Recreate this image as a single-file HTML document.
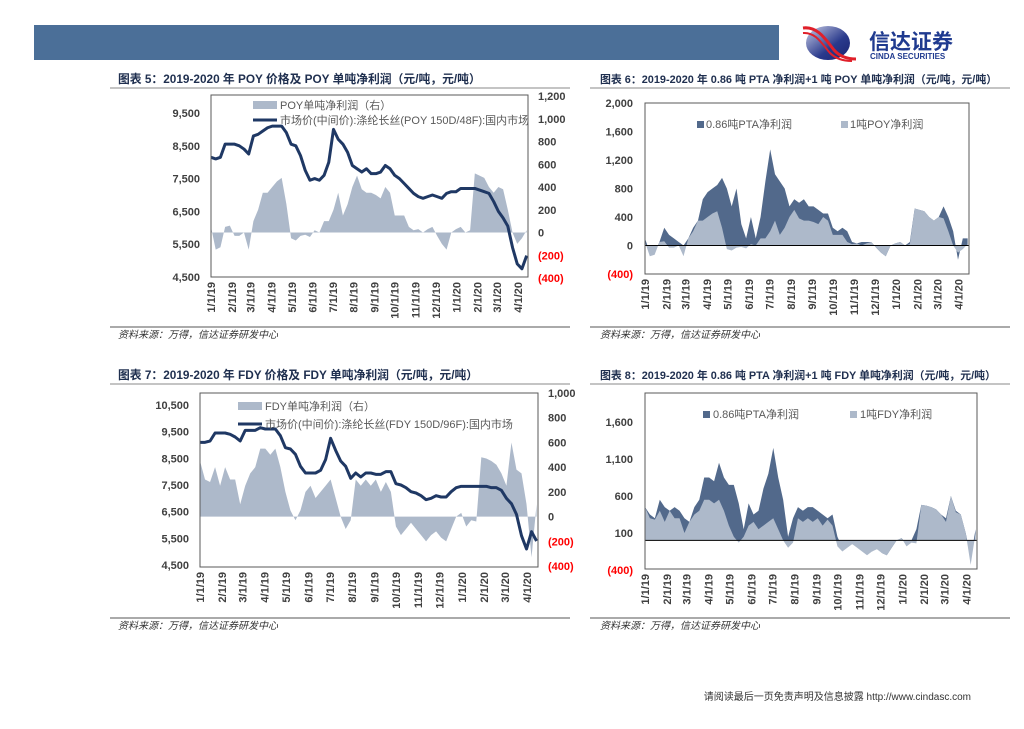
<!DOCTYPE html>
<html><head><meta charset="utf-8">
<style>
html,body{margin:0;padding:0;background:#fff;}
body{width:1024px;height:724px;position:relative;overflow:hidden;font-family:"Liberation Sans","Noto Sans CJK SC",sans-serif;}
svg text{font-family:"Liberation Sans","Noto Sans CJK SC",sans-serif;}
</style></head>
<body>
<svg id="page" width="1024" height="724" viewBox="0 0 1024 724" xmlns="http://www.w3.org/2000/svg">
  <rect x="34" y="25" width="745" height="35" fill="#4b6f98"/>
  <g>
    <defs><linearGradient id="lg" x1="0" y1="0" x2="1" y2="1"><stop offset="0" stop-color="#c9cde6"/><stop offset="0.6" stop-color="#2a3a8c"/><stop offset="1" stop-color="#1a2370"/></linearGradient></defs>
    <ellipse cx="828" cy="43" rx="22" ry="17" fill="url(#lg)"/>
    <path d="M803 28 C818 26 826 40 834 50 C840 57 848 59 856 59" stroke="#e0202a" stroke-width="3" fill="none"/>
    <path d="M803 33 C816 32 822 44 830 53 C836 59 844 61 852 61" stroke="#e0202a" stroke-width="2" fill="none"/>
    <text x="869" y="49" font-size="21" font-weight="bold" fill="#1f3a8f">信达证券</text>
    <text x="870" y="59" font-size="8" font-weight="bold" fill="#1f3a8f">CINDA SECURITIES</text>
  </g>
  <text x="971" y="700" font-size="10" fill="#333" text-anchor="end">请阅读最后一页免责声明及信息披露 http://www.cindasc.com</text>
</svg>
<script>
const monthLabels = ["1/1/19","2/1/19","3/1/19","4/1/19","5/1/19","6/1/19","7/1/19","8/1/19","9/1/19","10/1/19","11/1/19","12/1/19","1/1/20","2/1/20","3/1/20","4/1/20"];
const monthDays = [0,31,59,90,120,151,181,212,243,273,304,334,365,396,425,456];
const poyPrice = [8150,8100,8150,8550,8550,8550,8500,8400,8250,8800,8850,8950,9050,9100,9100,9100,8900,8550,8500,8200,7750,7450,7500,7450,7600,8000,9000,8700,8550,8300,7900,7800,7700,7800,7650,7650,7700,7900,7800,7600,7500,7350,7200,7050,6950,6900,6950,7000,6950,6900,7050,7100,7100,7200,7200,7200,7200,7150,7100,7050,6800,6500,6300,6050,5400,4900,4750,5150];
const poyProfit = [50,-150,-130,50,60,-30,-30,0,-150,100,200,350,350,400,450,480,250,-50,-70,-30,-20,-40,20,0,100,100,200,350,150,250,400,500,380,350,350,330,300,400,350,150,150,150,50,20,30,0,30,50,-30,-100,-150,0,30,50,0,20,520,500,480,400,350,400,380,200,0,-100,-50,20];
const fdyPrice = [9100,9100,9150,9450,9450,9450,9400,9300,9150,9550,9550,9550,9650,9600,9600,9600,9350,8900,8850,8650,8200,7950,7950,7950,8050,8450,9250,8800,8400,8200,7750,7950,7800,7950,7950,7900,7900,8000,8000,7550,7500,7400,7250,7200,7100,6950,7000,7100,7050,7050,7250,7400,7450,7450,7450,7450,7450,7450,7400,7400,7300,7000,6800,6400,5600,5100,5750,5400];
const fdyProfit = [450,300,280,400,250,400,300,300,100,250,350,400,550,550,500,550,400,200,50,-30,50,200,250,150,200,250,300,150,0,-100,-30,300,250,300,250,300,200,280,200,-80,-150,-100,-50,-100,-150,-200,-150,-120,-170,-200,-100,0,30,-80,-30,-40,480,470,450,420,350,250,600,380,350,100,-330,100];
const ptaProfitA = [50,50,30,0,190,180,130,50,150,0,50,0,300,350,350,370,700,850,620,830,320,140,380,100,300,800,1150,650,750,550,150,150,220,300,200,220,200,50,100,100,50,100,150,30,0,50,20,0,0,0,0,0,0,0,0,30,0,0,0,0,0,0,170,200,200,-100,150,80];
const ptaProfitB = [0,50,20,150,200,0,150,100,200,0,100,150,300,300,300,500,450,550,700,530,100,300,100,250,500,650,950,700,550,150,330,150,150,150,200,100,150,20,150,130,50,100,0,50,50,50,0,20,0,0,0,0,0,30,30,190,0,0,0,0,0,50,0,20,0,0,100,50];
const leftTicks5 = [9500,8500,7500,6500,5500,4500];
const rightTicks5 = [1200,1000,800,600,400,200,0,-200,-400];
const ticks6 = [2000,1600,1200,800,400,0,-400];
const leftTicks7 = [10500,9500,8500,7500,6500,5500,4500];
const rightTicks7 = [1000,800,600,400,200,0,-200,-400];
const ticks8 = [1600,1100,600,100,-400];

const NS = "http://www.w3.org/2000/svg";
const svg = document.getElementById('page');
const SPAN = 471;
function mk(tag, attrs, parent){ const e=document.createElementNS(NS,tag); for(const k in attrs) e.setAttribute(k,attrs[k]); (parent||svg).appendChild(e); return e; }
function fmt(v){ const s=Math.abs(v).toLocaleString('en-US'); return v<0?'('+s+')':s; }
function linY(v1,p1,v2,p2){ return v=>p1+(v-v1)*(p2-p1)/(v2-v1); }

function frame(g, box, title, tx, lineL, lineR, ty, fs){
  const t=mk('text',{x:tx,y:ty,'font-size':fs,'font-weight':'bold',fill:'#1f2f4f'},g);
  t.textContent=title;
  
  
  const ul=mk('line',{x1:lineL,x2:lineR,y1:ty+5,y2:ty+5,stroke:'#888','stroke-width':1},g);
  
  
  const src=mk('line',{x1:lineL,x2:lineR,y1:box.src,y2:box.src,stroke:'#555','stroke-width':1},g);
  
  
  const st=mk('text',{x:tx,y:box.src+11,'font-size':10,'font-style':'italic',fill:'#333'},g);
  st.textContent='资料来源：万得，信达证券研发中心';
  
  
}
function xAxis(g, box){
  const xs=d=>box.l+d/SPAN*(box.r-box.l);
  monthLabels.forEach((lab,i)=>{
    const x=xs(monthDays[i]);
    const t=mk('text',{x:0,y:0,'font-size':11,'font-weight':'bold',fill:'#404040','text-anchor':'end',transform:`translate(${x+4},${box.b+5}) rotate(-90)`},g);
    t.textContent=lab;
    
    
  });
  return xs;
}
function yLabels(g, ticks, ys, x, anchor){
  ticks.forEach(v=>{
    const t=mk('text',{x:x,y:ys(v)+4,'font-size':11,'font-weight':'bold',fill:v<0?'#ff0000':'#404040','text-anchor':anchor},g);
    t.textContent=fmt(v);
    
    
  });
}
function area(g, vals, xs, ys, color, name){
  let d=`M${xs(0)},${ys(0)}`;
  vals.forEach((v,i)=>{ d+=` L${xs(i*7)},${ys(v)}`; });
  d+=` L${xs((vals.length-1)*7)},${ys(0)} Z`;
  const p=mk('path',{d:d,fill:color,stroke:'none'},g);
  
  
}
function line(g, vals, xs, ys, name){
  const d=vals.map((v,i)=>(i?'L':'M')+xs(i*7)+','+ys(v)).join(' ');
  const p=mk('path',{d:d,fill:'none',stroke:'#1f3864','stroke-width':3,'stroke-linejoin':'round'},g);
  
  
}
function border(g, box){
  const r=mk('rect',{x:box.l,y:box.t,width:box.r-box.l,height:box.b-box.t,fill:'none',stroke:'#595959','stroke-width':1},g);
  
  
}
function legendText(g,x,y,s){
  const t=mk('text',{x:x,y:y,'font-size':11,fill:'#595959'},g);
  t.textContent=s;
  
  
}

(function(){
  const g=mk('g',{});
  
  
  const box={l:211,r:528,t:95,b:277,src:327};
  frame(g,box,'图表 5：2019-2020 年 POY 价格及 POY 单吨净利润（元/吨，元/吨）',118,110,570,83,11.8);
  const xs=xAxis(g,box);
  const yL=linY(9500,113,4500,277), yR=linY(0,232.5,1200,96);
  area(g,poyProfit,xs,yR,'#adb9ca','poy-profit-area');
  line(g,poyPrice,xs,yL,'poy-price-line');
  border(g,box);
  yLabels(g,leftTicks5,yL,200,'end');
  yLabels(g,rightTicks5,yR,538,'start');
  const lr=mk('rect',{x:253,y:101,width:24,height:8,fill:'#adb9ca'},g);
  
  
  legendText(g,280,109,'POY单吨净利润（右）');
  const ll=mk('line',{x1:253,x2:277,y1:120,y2:120,stroke:'#1f3864','stroke-width':3},g);
  
  
  legendText(g,280,124,'市场价(中间价):涤纶长丝(POY 150D/48F):国内市场');
})();

(function(){
  const g=mk('g',{});
  
  
  const box={l:645,r:969,t:103,b:274,src:327};
  frame(g,box,'图表 6：2019-2020 年 0.86 吨 PTA 净利润+1 吨 POY 单吨净利润（元/吨，元/吨）',600,590,1010,83,10.9);
  const xs=xAxis(g,box);
  const ys=linY(0,245.5,2000,103);
  const total=poyProfit.map((v,i)=>v+ptaProfitA[i]);
  area(g,total,xs,ys,'#52698b','pta-profit-area');
  area(g,poyProfit,xs,ys,'#adb9ca','poy-profit-area');
  const z=mk('line',{x1:box.l,x2:box.r,y1:ys(0),y2:ys(0),stroke:'#000','stroke-width':1},g);
  
  
  border(g,box);
  yLabels(g,ticks6,ys,633,'end');
  const a=mk('rect',{x:697,y:121,width:7,height:7,fill:'#52698b'},g);
  
  
  legendText(g,706,128,'0.86吨PTA净利润');
  const b=mk('rect',{x:841,y:121,width:7,height:7,fill:'#adb9ca'},g);
  
  
  legendText(g,850,128,'1吨POY净利润');
})();

(function(){
  const g=mk('g',{});
  
  
  const box={l:200,r:538,t:393,b:567,src:618};
  frame(g,box,'图表 7：2019-2020 年 FDY 价格及 FDY 单吨净利润（元/吨，元/吨）',118,110,570,379,11.8);
  const xs=xAxis(g,box);
  const yL=linY(10500,405,4500,565), yR=linY(0,516.6,1000,393);
  area(g,fdyProfit,xs,yR,'#adb9ca','fdy-profit-area');
  line(g,fdyPrice,xs,yL,'fdy-price-line');
  border(g,box);
  yLabels(g,leftTicks7,yL,189,'end');
  yLabels(g,rightTicks7,yR,548,'start');
  const lr=mk('rect',{x:238,y:402,width:24,height:8,fill:'#adb9ca'},g);
  
  
  legendText(g,265,410,'FDY单吨净利润（右）');
  const ll=mk('line',{x1:238,x2:262,y1:424,y2:424,stroke:'#1f3864','stroke-width':3},g);
  
  
  legendText(g,265,428,'市场价(中间价):涤纶长丝(FDY 150D/96F):国内市场');
})();

(function(){
  const g=mk('g',{});
  
  
  const box={l:645,r:977,t:393,b:569,src:618};
  frame(g,box,'图表 8：2019-2020 年 0.86 吨 PTA 净利润+1 吨 FDY 单吨净利润（元/吨，元/吨）',600,590,1010,379,10.9);
  const xs=xAxis(g,box);
  const ys=linY(0,540.4,1600,422);
  const total=fdyProfit.map((v,i)=>v+ptaProfitB[i]);
  area(g,total,xs,ys,'#52698b','pta-profit-area');
  area(g,fdyProfit,xs,ys,'#adb9ca','fdy-profit-area');
  const z=mk('line',{x1:box.l,x2:box.r,y1:ys(0),y2:ys(0),stroke:'#000','stroke-width':1},g);
  
  
  border(g,box);
  yLabels(g,ticks8,ys,633,'end');
  const a=mk('rect',{x:703,y:411,width:7,height:7,fill:'#52698b'},g);
  
  
  legendText(g,713,418,'0.86吨PTA净利润');
  const b=mk('rect',{x:850,y:411,width:7,height:7,fill:'#adb9ca'},g);
  
  
  legendText(g,860,418,'1吨FDY净利润');
})();
</script>
</body></html>
